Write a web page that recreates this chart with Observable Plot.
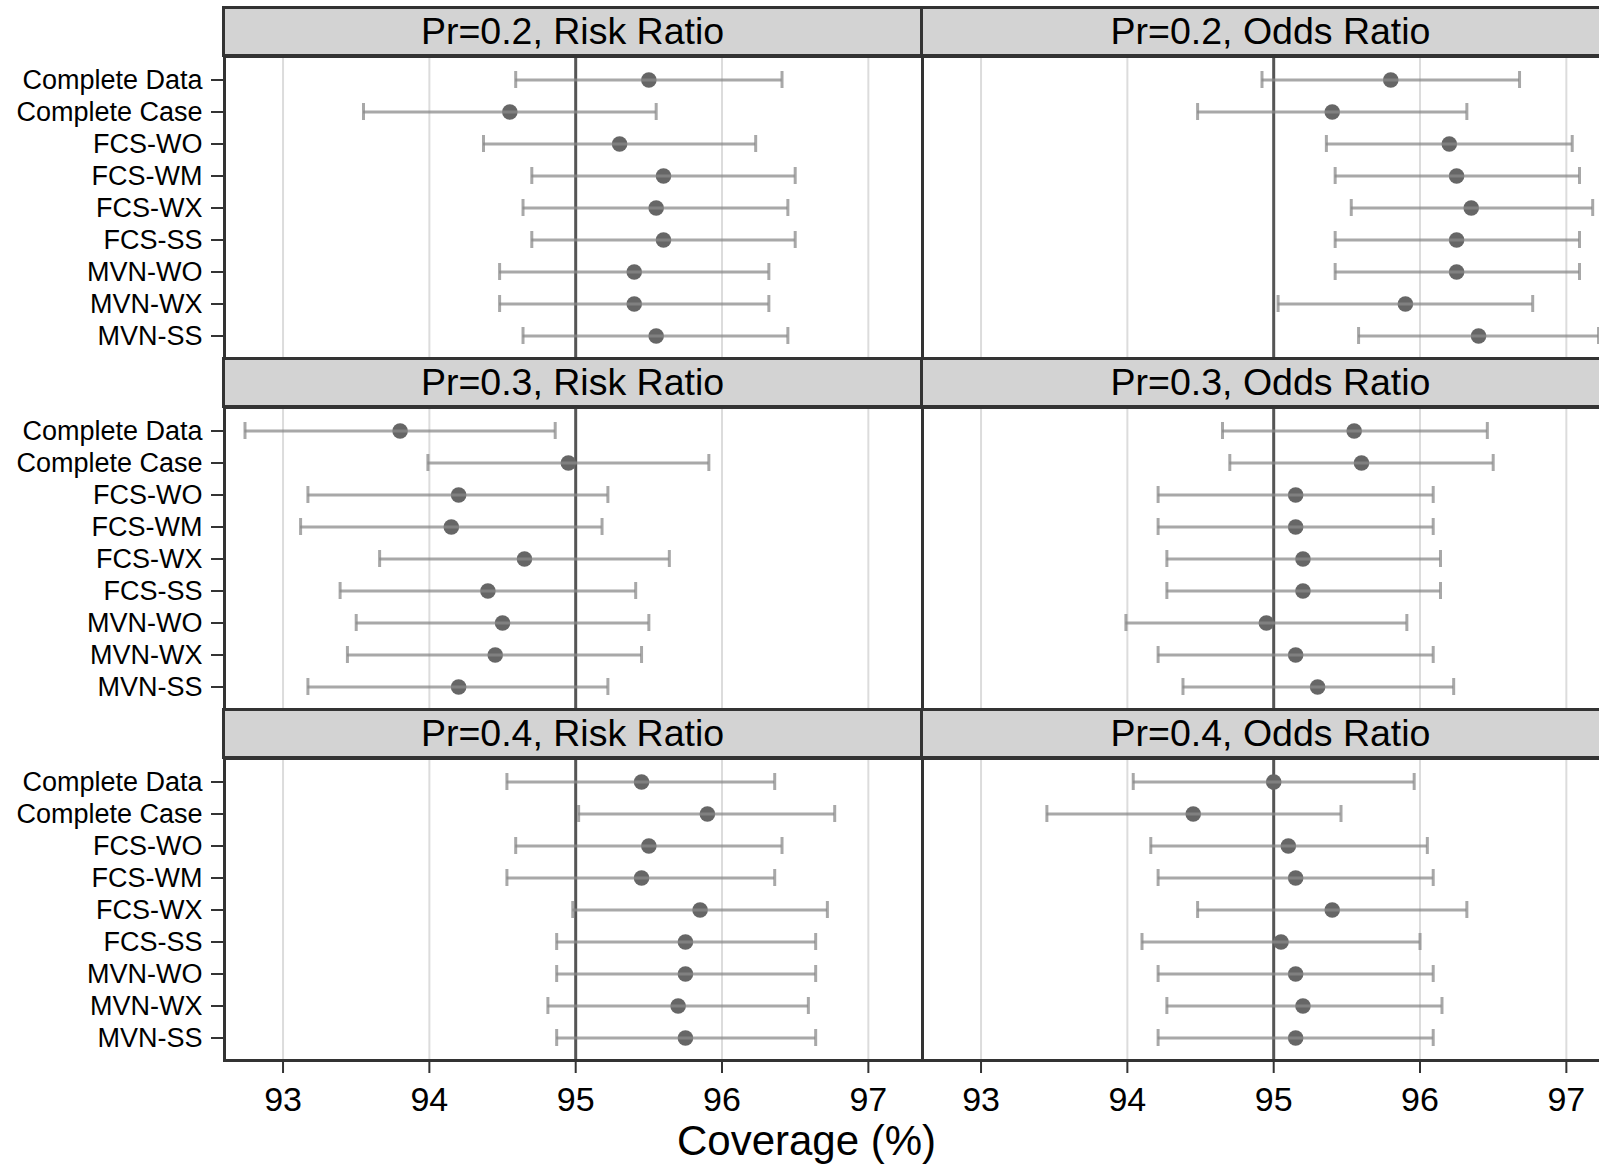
<!DOCTYPE html>
<html>
<head>
<meta charset="utf-8">
<script src="https://cdn.jsdelivr.net/npm/d3@7"></script>
<script src="https://cdn.jsdelivr.net/npm/@observablehq/plot@0.6"></script>
<style>
html, body { margin: 0; padding: 0; background: #fff; overflow: hidden; }
#fig { position: relative; width: 1621px; height: 1165px; font-family: "Liberation Sans", Arial, sans-serif; color: #000; }
.strip { position: absolute; box-sizing: border-box; height: 51px; background: #d3d3d3; border: 3px solid #333;
  display: flex; align-items: center; justify-content: center; font-size: 37.5px; line-height: 45px; white-space: nowrap; }
.panel { position: absolute; }
.panel svg { overflow: visible; display: block; }
.panel [aria-label^="y-axis"] text { font-size: 27px; }
.panel [aria-label^="x-axis"] text { font-size: 34px; }
.panel [aria-label^="y-axis"] line, .panel [aria-label^="y-axis"] path,
.panel [aria-label^="x-axis"] line, .panel [aria-label^="x-axis"] path { stroke-width: 2px; stroke: #333; }
#xtitle { position: absolute; left: 0; width: 1613px; text-align: center; font-size: 42px; line-height: 42px; top: 1120px; }
</style>
</head>
<body>
<div id="fig"></div>
<script>
const methods = ["Complete Data", "Complete Case", "FCS-WO", "FCS-WM", "FCS-WX", "FCS-SS", "MVN-WO", "MVN-WX", "MVN-SS"];
const prLevels = ["0.2", "0.3", "0.4"];
const measures = ["Risk Ratio", "Odds Ratio"];
const xTicks = [93, 94, 95, 96, 97];
const gridVals = [93, 94, 96, 97];
const target = [95];

const cov_02_RR = [95.50, 94.55, 95.30, 95.60, 95.55, 95.60, 95.40, 95.40, 95.55];
const lo_02_RR  = [94.59, 93.55, 94.37, 94.70, 94.64, 94.70, 94.48, 94.48, 94.64];
const hi_02_RR  = [96.41, 95.55, 96.23, 96.50, 96.45, 96.50, 96.32, 96.32, 96.45];

const cov_02_OR = [95.80, 95.40, 96.20, 96.25, 96.35, 96.25, 96.25, 95.90, 96.40];
const lo_02_OR  = [94.92, 94.48, 95.36, 95.42, 95.53, 95.42, 95.42, 95.03, 95.58];
const hi_02_OR  = [96.68, 96.32, 97.04, 97.09, 97.18, 97.09, 97.09, 96.77, 97.22];

const cov_03_RR = [93.80, 94.95, 94.20, 94.15, 94.65, 94.40, 94.50, 94.45, 94.20];
const lo_03_RR  = [92.74, 93.99, 93.17, 93.12, 93.66, 93.39, 93.50, 93.44, 93.17];
const hi_03_RR  = [94.86, 95.91, 95.22, 95.18, 95.64, 95.41, 95.50, 95.45, 95.22];

const cov_03_OR = [95.55, 95.60, 95.15, 95.15, 95.20, 95.20, 94.95, 95.15, 95.30];
const lo_03_OR  = [94.65, 94.70, 94.21, 94.21, 94.27, 94.27, 93.99, 94.21, 94.38];
const hi_03_OR  = [96.46, 96.50, 96.09, 96.09, 96.14, 96.14, 95.91, 96.09, 96.23];

const cov_04_RR = [95.45, 95.90, 95.50, 95.45, 95.85, 95.75, 95.75, 95.70, 95.75];
const lo_04_RR  = [94.53, 95.02, 94.59, 94.53, 94.98, 94.87, 94.87, 94.81, 94.87];
const hi_04_RR  = [96.36, 96.77, 96.41, 96.36, 96.72, 96.64, 96.64, 96.59, 96.64];

const cov_04_OR = [95.00, 94.45, 95.10, 95.15, 95.40, 95.05, 95.15, 95.20, 95.15];
const lo_04_OR  = [94.04, 93.45, 94.16, 94.21, 94.48, 94.10, 94.21, 94.27, 94.21];
const hi_04_OR  = [95.96, 95.46, 96.05, 96.09, 96.32, 96.00, 96.09, 96.15, 96.09];

const series = [
  [[cov_02_RR, lo_02_RR, hi_02_RR], [cov_02_OR, lo_02_OR, hi_02_OR]],
  [[cov_03_RR, lo_03_RR, hi_03_RR], [cov_03_OR, lo_03_OR, hi_03_OR]],
  [[cov_04_RR, lo_04_RR, hi_04_RR], [cov_04_OR, lo_04_OR, hi_04_OR]]
];

const FONT = '"Liberation Sans", Arial, sans-serif';
const fig = document.getElementById("fig");

const blockTop0 = 6, blockStep = 351, stripH = 50, panelH = 302;
const colX = [224, 922], panelW = 698, labelW = 224, axisH = 100;

function makePanel(pi, mi) {
  const showY = mi === 0;
  const showX = pi === prLevels.length - 1;
  const [cov, lo, hi] = series[pi][mi];
  const rows = methods.map((m, i) => ({method: m, cov: cov[i], lo: lo[i], hi: hi[i]}));
  const barStyle = {stroke: "#8a8a8a", strokeOpacity: 0.74, strokeWidth: 3};
  return Plot.plot({
    width: (showY ? labelW : 0) + panelW,
    height: panelH + (showX ? axisH : 0),
    marginLeft: showY ? labelW : 0,
    marginRight: 0,
    marginTop: 0,
    marginBottom: showX ? axisH : 0,
    style: {fontFamily: FONT, color: "#000", background: "transparent", overflow: "visible"},
    x: {domain: [92.6, 97.37], ticks: xTicks, tickFormat: d => String(d), tickSize: 13, tickPadding: 13,
        axis: showX ? "bottom" : null, label: null},
    y: {type: "band", domain: methods, paddingInner: 0.47, paddingOuter: 0.453,
        axis: showY ? "left" : null, tickSize: 13, tickPadding: 9, label: null},
    marks: [
      Plot.ruleX(gridVals, {stroke: "#dcdcdc", strokeWidth: 2}),
      Plot.ruleX(target, {stroke: "#555", strokeWidth: 3}),
      Plot.dot(rows, {x: "cov", y: "method", r: 7.8, fill: "#666", stroke: "none"}),
      Plot.ruleY(rows, {x1: "lo", x2: "hi", y: "method", ...barStyle}),
      Plot.tickX(rows, {x: "lo", y: "method", ...barStyle}),
      Plot.tickX(rows, {x: "hi", y: "method", ...barStyle}),
      Plot.frame({stroke: "#333", strokeWidth: 3})
    ]
  });
}

prLevels.forEach((pr, pi) => {
  const top = blockTop0 + pi * blockStep;
  measures.forEach((meas, mi) => {
    const strip = document.createElement("div");
    strip.className = "strip";
    strip.style.left = (colX[mi] - 2) + "px";
    strip.style.width = (panelW + 3) + "px";
    strip.style.top = top + "px";
    strip.textContent = `Pr=${pr}, ${meas}`;
    fig.appendChild(strip);

    const holder = document.createElement("div");
    holder.className = "panel";
    holder.style.left = (mi === 0 ? 0 : colX[1]) + "px";
    holder.style.top = (top + stripH) + "px";
    holder.appendChild(makePanel(pi, mi));
    fig.appendChild(holder);
  });
});

const xt = document.createElement("div");
xt.id = "xtitle";
xt.textContent = "Coverage (%)";
fig.appendChild(xt);
</script>
</body>
</html>
